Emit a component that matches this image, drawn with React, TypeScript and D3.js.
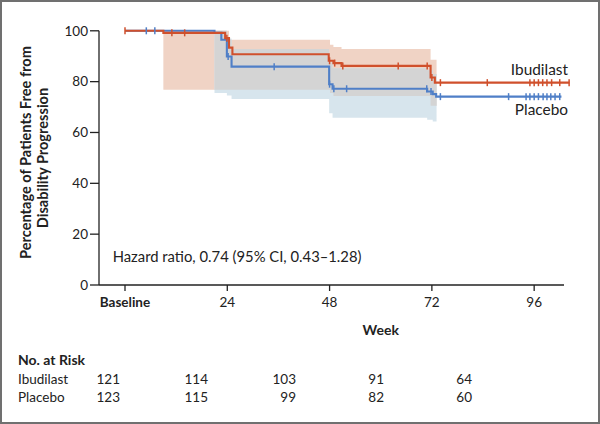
import React from "react";
import * as d3 from "d3";

// ---- Data (weeks, percent) ----
const ibuStepT = [0, 9.0, 23.5, 24.4, 25.2, 47.8, 48.9, 50.8, 71.7, 72.7, 104.3];
const ibuStepV = [100, 99.2, 97.1, 93.4, 90.8, 88.2, 87.3, 86.2, 81.6, 79.6, 79.6];
const ibuCensor = [0, 11, 14, 23.9, 48.0, 49.2, 51.1, 64.1, 70.9, 72.0, 74.0, 85, 95.0, 96.0, 97.0, 98.0, 99.0, 100.1, 102.0, 104.2];

const plaStepT = [0, 21.0, 22.6, 23.9, 25.0, 47.9, 48.7, 70.9, 72.2, 73.0, 102.4];
const plaStepV = [100, 99.2, 96.5, 89.9, 85.9, 79.0, 77.2, 76.1, 75.1, 74.1, 74.1];
const plaCensor = [5.0, 7.0, 24.2, 35, 48.0, 49.0, 52.0, 70.8, 71.8, 74.0, 90.0, 94.1, 95.0, 96.0, 97.0, 98.1, 99.0, 99.9, 100.9, 102.0];

// CI bands: start week, lower, upper (last row = end)
const ibuBandT = [9.0, 24.4, 48.1, 48.9, 50.8, 71.7, 73.1];
const ibuBandLo = [76.8, 76.8, 75.5, 74.4, 74.4, 70.5, 70.5];
const ibuBandHi = [100, 96.5, 94.5, 93.6, 92.8, 88.6, 88.6];

const plaBandT = [21.0, 23.9, 25.0, 47.9, 48.7, 70.9, 72.2, 73.1];
const plaBandLo = [75.5, 74.5, 73.2, 67.6, 65.8, 65.0, 64.3, 64.3];
const plaBandHi = [100, 97, 92.8, 87.5, 85.3, 84.5, 83.0, 83.0];

const yTicks = [0, 20, 40, 60, 80, 100];
const xTicks = [0, 24, 48, 72, 96];
const xTickLabels = ["Baseline", "24", "48", "72", "96"];

const riskGroups = ["Ibudilast", "Placebo"];
const riskIbu = [121, 114, 103, 91, 64];
const riskPla = [123, 115, 99, 82, 60];

const RED = "#D0502C";
const BLUE = "#4F7FC7";
const RED_BAND = "#F0D3C5";
const BLUE_BAND = "#D7E5ED";
const GRAY_BAND = "#D4D4D4";
const FONT = "Lato, 'Open Sans', sans-serif";

type Pt = { t: number; lo: number; hi: number };

function bandPts(T: number[], lo: number[], hi: number[]): Pt[] {
  return T.map((t, i) => ({ t, lo: lo[i], hi: hi[i] }));
}

function valAt(T: number[], V: number[], t: number): number | null {
  if (t < T[0] || t > T[T.length - 1]) return null;
  let v = V[0];
  for (let i = 0; i < T.length; i++) if (T[i] <= t) v = V[i];
  return v;
}

export default function App() {
  const W = 600, H = 424;
  const x = d3.scaleLinear().domain([-6.1, 103]).range([99, 564]);
  const y = d3.scaleLinear().domain([0, 100]).range([285, 30.8]);

  const line = d3
    .line<[number, number]>()
    .x((d) => x(d[0]))
    .y((d) => y(d[1]))
    .curve(d3.curveStepAfter);

  const area = d3
    .area<Pt>()
    .x((d) => x(d.t))
    .y0((d) => y(d.lo))
    .y1((d) => y(d.hi))
    .curve(d3.curveStepAfter);

  const ibuBand = bandPts(ibuBandT, ibuBandLo, ibuBandHi);
  const plaBand = bandPts(plaBandT, plaBandLo, plaBandHi);

  const unionT = Array.from(new Set([...ibuBandT, ...plaBandT])).sort((a, b) => a - b);
  const overlap: Pt[] = unionT.map((t) => {
    const rl = valAt(ibuBandT, ibuBandLo, t), rh = valAt(ibuBandT, ibuBandHi, t);
    const bl = valAt(plaBandT, plaBandLo, t), bh = valAt(plaBandT, plaBandHi, t);
    if (rl === null || rh === null || bl === null || bh === null) return { t, lo: 0, hi: 0 };
    const lo = Math.max(rl, bl), hi = Math.min(rh, bh);
    return hi > lo ? { t, lo, hi } : { t, lo: 0, hi: 0 };
  });

  const ibuLine = ibuStepT.map((t, i) => [t, ibuStepV[i]] as [number, number]);
  const plaLine = plaStepT.map((t, i) => [t, plaStepV[i]] as [number, number]);

  const riskX = d3.scaleLinear().domain([0, 4]).range([120, 472]);

  const censorMarks = (ts: number[], T: number[], V: number[], color: string, key: string) =>
    ts.map((t, i) => {
      const v = valAt(T, V, Math.min(t, T[T.length - 1])) ?? V[V.length - 1];
      return (
        <line
          key={key + i}
          x1={x(t)}
          x2={x(t)}
          y1={y(v) - 3.5}
          y2={y(v) + 3.5}
          stroke={color}
          strokeWidth={1.5}
        />
      );
    });

  return (
    <svg
      width={W}
      height={H}
      style={{ position: "absolute", left: 0, top: 0, background: "#fff" }}
      fontFamily={FONT}
    >
      <rect x={1} y={1} width={W - 2} height={H - 2} fill="#fff" stroke="#707070" strokeWidth={2} />

      {/* bands */}
      <path d={area(ibuBand) || ""} fill={RED_BAND} />
      <path d={area(plaBand) || ""} fill={BLUE_BAND} />
      <path d={area(overlap) || ""} fill={GRAY_BAND} />

      {/* curves */}
      <path d={line(plaLine) || ""} fill="none" stroke={BLUE} strokeWidth={2.1} />
      <path d={line(ibuLine) || ""} fill="none" stroke={RED} strokeWidth={2.1} />
      {censorMarks(plaCensor, plaStepT, plaStepV, BLUE, "p")}
      {censorMarks(ibuCensor, ibuStepT, ibuStepV, RED, "i")}

      {/* axes */}
      <line x1={x.range()[0]} x2={x.range()[0]} y1={y(0)} y2={y(100)} stroke="#222" strokeWidth={1.3} />
      <line x1={x.range()[0]} x2={x.range()[1]} y1={y(0)} y2={y(0)} stroke="#222" strokeWidth={1.3} />
      {yTicks.map((t) => (
        <g key={"yt" + t}>
          <line x1={x.range()[0] - 9} x2={x.range()[0]} y1={y(t)} y2={y(t)} stroke="#222" strokeWidth={1.3} />
          <text x={x.range()[0] - 11} y={y(t)} dy="0.35em" textAnchor="end" fontSize={13.5} fill="#222">
            {t}
          </text>
        </g>
      ))}
      {xTicks.map((t, i) => (
        <g key={"xt" + t}>
          <line x1={x(t)} x2={x(t)} y1={y(0)} y2={y(0) + 6} stroke="#222" strokeWidth={1.3} />
          <text
            x={x(t)}
            y={307}
            textAnchor="middle"
            fontSize={13.5}
            fontWeight={i === 0 ? 700 : 400}
            fill="#222"
          >
            {xTickLabels[i]}
          </text>
        </g>
      ))}
      <text x={x(60)} y={335} textAnchor="middle" fontSize={14} fontWeight={700} fill="#222">
        Week
      </text>

      {/* y title */}
      <text transform="translate(31,152.5) rotate(-90)" textAnchor="middle" fontSize={14.6} fontWeight={700} fill="#222">
        Percentage of Patients Free from
      </text>
      <text transform="translate(48,158) rotate(-90)" textAnchor="middle" fontSize={14.6} fontWeight={700} fill="#222">
        Disability Progression
      </text>

      {/* labels */}
      <text x={568} y={75} textAnchor="end" fontSize={15.4} fill="#222">
        Ibudilast
      </text>
      <text x={568} y={115} textAnchor="end" fontSize={15.4} fill="#222">
        Placebo
      </text>
      <text x={112.7} y={261.7} fontSize={14.8} fill="#222">
        Hazard ratio, 0.74 (95% CI, 0.43–1.28)
      </text>

      {/* risk table */}
      <text x={18} y={365} fontSize={14} fontWeight={700} fill="#222">
        No. at Risk
      </text>
      {[riskIbu, riskPla].map((row, r) => (
        <g key={"risk" + r}>
          <text x={18} y={384 + r * 17.7} fontSize={13.5} fill="#222">
            {riskGroups[r]}
          </text>
          {row.map((n, j) => (
            <text key={j} x={riskX(j)} y={384 + r * 17.7} textAnchor="end" fontSize={13.5} fill="#222">
              {n}
            </text>
          ))}
        </g>
      ))}
    </svg>
  );
}
